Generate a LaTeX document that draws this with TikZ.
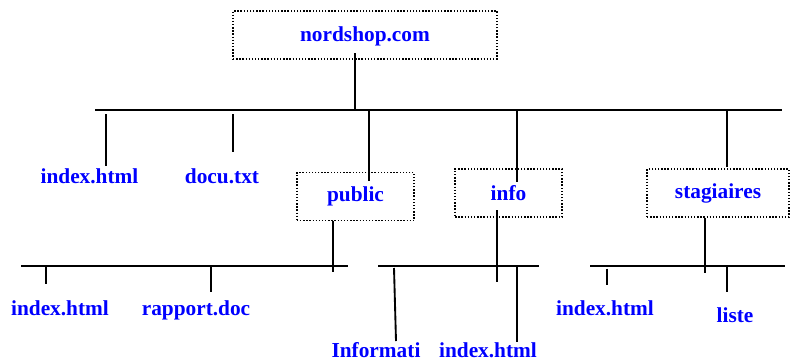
\documentclass[tikz,border=0pt]{standalone}
\usepackage{fontspec}
\setmainfont{Liberation Serif}
\tikzset{
  dir/.style={draw, line width=1.05pt, dash pattern=on 1.05pt off 1.3pt, text=blue,
    font=\bfseries\fontsize{16}{19}\selectfont, minimum height=36pt},
  file/.style={text=blue, font=\bfseries\fontsize{16}{19}\selectfont, anchor=base, inner sep=0pt}
}
\begin{document}
\begin{tikzpicture}[x=0.75pt, y=-0.75pt, line width=1.4pt]
  \useasboundingbox (0, 0) rectangle (792, 361);
  % directories
  \node[dir, minimum width=198pt, text depth=1pt] (root) at (365, 35) {nordshop.com};
  \node[dir, minimum width=88pt] (public) at (355.5, 196.5) {public};
  \node[dir, minimum width=80pt] (info) at (508.5, 193) {info};
  \node[dir, minimum width=106.5pt] (stag) at (718, 193) {stagiaires};
  % files
  \node[file] (index) at (89.5, 183) {index.html};
  \node[file] (docu) at (222, 183) {docu.txt};
  \node[file] (pindex) at (60, 315) {index.html};
  \node[file] (rapport) at (196, 315) {rapport.doc};
  \node[file] (informati) at (376, 357) {Informati};
  \node[file] (iindex) at (488, 357) {index.html};
  \node[file] (sindex) at (605, 315) {index.html};
  \node[file] (liste) at (735, 322) {liste};
  % bars
  \coordinate (bar0w) at (95, 110);  \coordinate (bar0e) at (782, 110);
  \coordinate (bar1w) at (21, 266);  \coordinate (bar1e) at (348, 266);
  \coordinate (bar2w) at (378, 266); \coordinate (bar2e) at (539, 266);
  \coordinate (bar3w) at (590, 266); \coordinate (bar3e) at (785, 266);
  \draw (bar0w) -- (bar0e);
  \draw (bar1w) -- (bar1e);
  \draw (bar2w) -- (bar2e);
  \draw (bar3w) -- (bar3e);
  % level 1
  \coordinate (r) at (355, 53);
  \draw (r) -- (r |- bar0w);
  \coordinate (t1) at (106, 166); \draw[shorten <=3pt] (t1 |- bar0w) -- (t1);
  \coordinate (t2) at (233, 152); \draw[shorten <=3pt] (t2 |- bar0w) -- (t2);
  \coordinate (t3) at (369, 181); \draw (t3 |- bar0w) -- (t3);
  \coordinate (t4) at (517, 182); \draw (t4 |- bar0w) -- (t4);
  \coordinate (t5) at (727, 167); \draw (t5 |- bar0w) -- (t5);
  % public
  \coordinate (p0) at (333, 272); \draw (p0 |- public.south) -- (p0);
  \coordinate (p1) at (46, 284);  \draw (p1 |- bar1w) -- (p1);
  \coordinate (p2) at (211, 292); \draw (p2 |- bar1w) -- (p2);
  % info
  \coordinate (i0) at (497, 282); \draw (497, 210) -- (i0);
  \coordinate (i1) at (396, 341); \draw (394, 268) -- (i1);
  \coordinate (i2) at (517, 342); \draw (i2 |- bar2w) -- (i2);
  % stagiaires
  \coordinate (s0) at (705, 273); \draw (s0 |- stag.south) -- (s0);
  \coordinate (s1) at (607, 285); \draw[shorten <=2pt] (s1 |- bar3w) -- (s1);
  \coordinate (s2) at (727, 292); \draw (s2 |- bar3w) -- (s2);
\end{tikzpicture}
\end{document}
